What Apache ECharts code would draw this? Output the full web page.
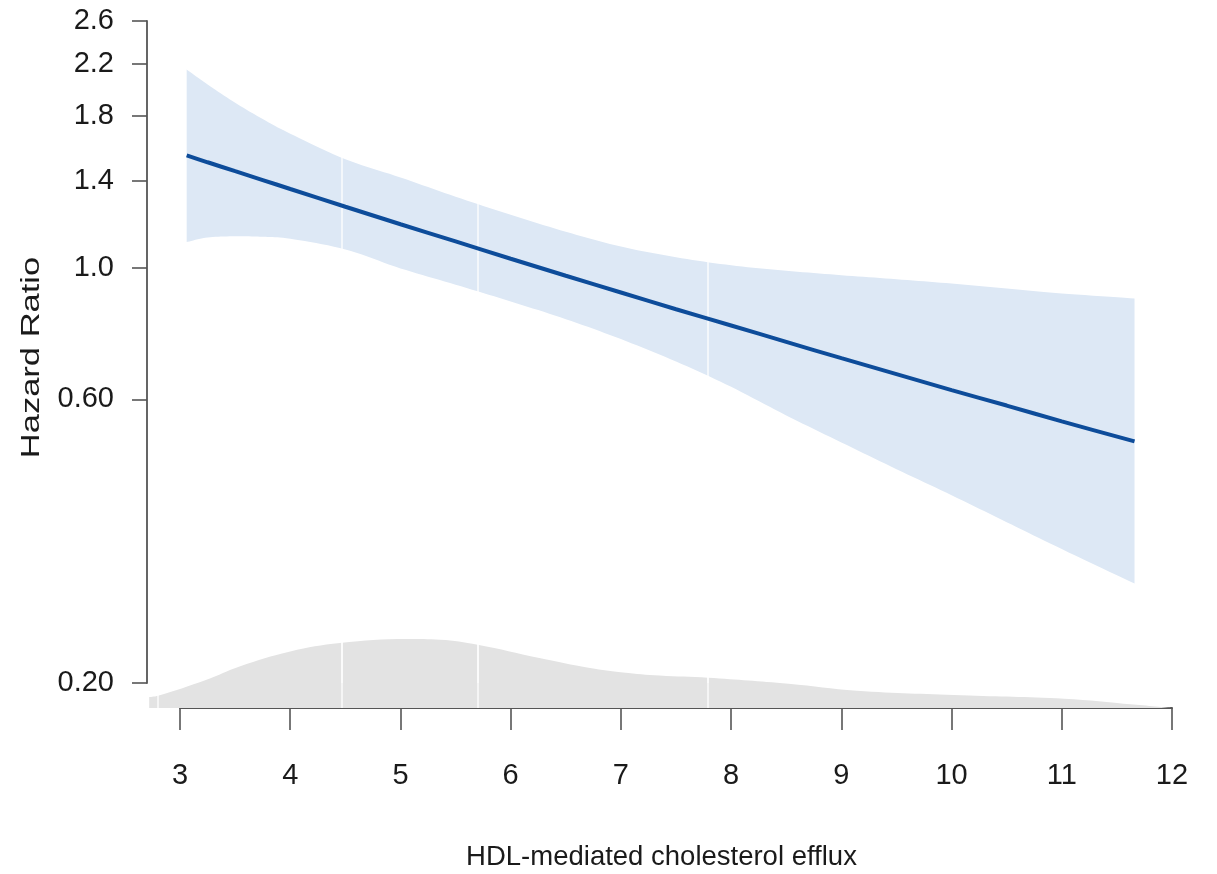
<!DOCTYPE html>
<html>
<head>
<meta charset="utf-8">
<script src="https://cdn.jsdelivr.net/npm/echarts@6/dist/echarts.min.js"></script>
<style>
  html, body { margin: 0; padding: 0; background: #fff; }
  #chart { width: 1217px; height: 874px; }
</style>
</head>
<body>
<div id="chart"></div>
<script>
// ---- data ----
const efflux   = [3.06, 3.25, 3.5, 3.75, 4, 4.5, 5, 5.5, 6, 6.5, 7, 7.5, 8, 8.5, 9, 9.5, 10, 10.5, 11, 11.66];
const hazard   = [1.545, 1.504, 1.453, 1.404, 1.356, 1.266, 1.183, 1.107, 1.035, 0.969, 0.908, 0.851, 0.799, 0.750, 0.704, 0.662, 0.622, 0.586, 0.551, 0.510];
const ciUpper  = [2.154, 2.033, 1.894, 1.778, 1.680, 1.522, 1.418, 1.316, 1.227, 1.149, 1.085, 1.041, 1.009, 0.988, 0.971, 0.956, 0.940, 0.922, 0.905, 0.887];
const ciLower  = [1.104, 1.124, 1.129, 1.127, 1.118, 1.073, 0.997, 0.936, 0.877, 0.819, 0.758, 0.695, 0.630, 0.564, 0.508, 0.458, 0.414, 0.373, 0.336, 0.294];

const densityX = [2.72, 2.80, 3.24, 3.54, 4.00, 4.45, 5.06, 5.36, 5.70, 6.26, 6.72, 7.02, 7.35, 7.79, 8.52, 9.14, 10.09, 11.02, 11.65, 12.0];
const densityY = [0.0110, 0.0123, 0.0283, 0.0416, 0.0566, 0.0650, 0.0690, 0.0683, 0.0633, 0.0500, 0.0400, 0.0356, 0.0325, 0.0303, 0.0243, 0.0173, 0.0128, 0.0093, 0.0035, 0.0];

const yTicks      = [0.2, 0.6, 1.0, 1.4, 1.8, 2.2, 2.6];
const yTickLabels = ['0.20', '0.60', '1.0', '1.4', '1.8', '2.2', '2.6'];
const xTicksMin = 3, xTicksMax = 12;

// faint white seams visible in the original rendering
const bandSeams    = [4.475, 5.70, 7.79];
const densitySeams = [2.80, 4.475, 5.70, 7.79];

// ---- build series (log scale via ln transform) ----
const ln = Math.log;
const lineData = efflux.map((x, i) => [x, ln(hazard[i])]);
const bandData = efflux.map((x, i) => [x, ln(ciLower[i]), ln(ciUpper[i])]);
const densData = densityX.map((x, i) => [x, densityY[i]]);
const yTickLn  = yTicks.map(v => ln(v));

const labelFont = '"Liberation Sans", Arial, sans-serif';
const axisColor = '#555';

// Catmull-Rom smoothing of screen-space points (rendering only)
function smoothPts(pts, steps) {
  const out = [];
  const n = pts.length;
  for (let i = 0; i < n - 1; i++) {
    const p0 = pts[Math.max(i - 1, 0)], p1 = pts[i], p2 = pts[i + 1], p3 = pts[Math.min(i + 2, n - 1)];
    for (let s = 0; s < steps; s++) {
      const t = s / steps, t2 = t * t, t3 = t2 * t;
      const f = (a, b, c, d) => 0.5 * ((2 * b) + (-a + c) * t + (2 * a - 5 * b + 4 * c - d) * t2 + (-a + 3 * b - 3 * c + d) * t3);
      out.push([f(p0[0], p1[0], p2[0], p3[0]), f(p0[1], p1[1], p2[1], p3[1])]);
    }
  }
  out.push(pts[n - 1]);
  return out;
}

const seamLine = (vals) => ({
  symbol: 'none', silent: true, animation: false, z: 2,
  label: { show: false },
  emphasis: { disabled: true },
  lineStyle: { color: '#ffffff', width: 1.5, type: 'solid', opacity: 0.85 },
  data: vals.map(v => ({ xAxis: v }))
});

const chart = echarts.init(document.getElementById('chart'), null, { renderer: 'canvas' });

chart.setOption({
  animation: false,
  backgroundColor: '#ffffff',
  grid: [
    { left: 147, right: 45, top: 21, bottom: 191 },      // hazard ratio panel
    { left: 147, right: 45, bottom: 166, height: 100 },  // density panel
    { left: 180, right: 45, top: 707, height: 1 }        // visible x axis
  ],
  xAxis: [
    { gridIndex: 0, type: 'value', min: 2.7, max: 12, show: false },
    { gridIndex: 1, type: 'value', min: 2.7, max: 12, show: false },
    {
      gridIndex: 2, type: 'value', min: xTicksMin, max: xTicksMax, interval: 1,
      position: 'bottom',
      axisLine: { show: true, lineStyle: { color: axisColor, width: 2 } },
      axisTick: { show: true, inside: false, length: 22, lineStyle: { color: axisColor, width: 1.6 } },
      axisLabel: { show: true, margin: 53, color: '#1a1a1a', fontSize: 29, fontFamily: labelFont },
      splitLine: { show: false }
    }
  ],
  yAxis: [
    {
      gridIndex: 0, type: 'value', min: ln(0.2), max: ln(2.6),
      axisLine: { show: true, lineStyle: { color: axisColor, width: 1.8 } },
      axisTick: { show: true, length: 15, customValues: yTickLn, lineStyle: { color: axisColor, width: 1.6 } },
      axisLabel: {
        show: true, margin: 33, color: '#1a1a1a', fontSize: 29, fontFamily: labelFont,
        customValues: yTickLn,
        formatter: (v) => {
          let best = 0, bd = Infinity;
          yTickLn.forEach((t, i) => { const d = Math.abs(t - v); if (d < bd) { bd = d; best = i; } });
          return yTickLabels[best];
        }
      },
      splitLine: { show: false }
    },
    { gridIndex: 1, type: 'value', min: 0, max: 0.1, show: false },
    { gridIndex: 2, type: 'value', min: 0, max: 1, show: false }
  ],
  graphic: [
    {
      type: 'text', x: 661.5, y: 857,
      style: { text: 'HDL-mediated cholesterol efflux', fontSize: 27.5, fontFamily: '"Liberation Sans", Arial, sans-serif', fill: '#1a1a1a', align: 'center', verticalAlign: 'middle' }
    },
    {
      type: 'text', x: 32.5, y: 357.5, rotation: Math.PI / 2, scaleX: 1.38,
      style: { text: 'Hazard Ratio', fontSize: 25, fontFamily: '"Liberation Sans", Arial, sans-serif', fill: '#1a1a1a', align: 'center', verticalAlign: 'middle' }
    }
  ],
  series: [
    {
      name: 'density', type: 'line', xAxisIndex: 1, yAxisIndex: 1,
      data: densData, smooth: 0.4, showSymbol: false, silent: true,
      lineStyle: { width: 0, color: '#e3e3e3' },
      areaStyle: { color: '#e3e3e3', opacity: 1 },
      markLine: seamLine(densitySeams), z: 1
    },
    {
      name: '95% CI', type: 'custom', xAxisIndex: 0, yAxisIndex: 0,
      data: bandData, silent: true, z: 1,
      encode: { x: 0, y: [1, 2] },
      renderItem: function (params, api) {
        if (params.dataIndex !== 0) return null;
        const upperPts = smoothPts(bandData.map(d => api.coord([d[0], d[2]])), 10);
        const lowerPts = smoothPts(bandData.map(d => api.coord([d[0], d[1]])), 10).reverse();
        return {
          type: 'polygon',
          shape: { points: upperPts.concat(lowerPts) },
          style: { fill: '#dde8f5', stroke: null }
        };
      }
    },
    {
      name: 'HR', type: 'line', xAxisIndex: 0, yAxisIndex: 0,
      data: lineData, smooth: 0.3, showSymbol: false, silent: true,
      lineStyle: { width: 4, color: '#0d4c9a' }, z: 10,
      markLine: seamLine(bandSeams)
    }
  ]
});
</script>
</body>
</html>
